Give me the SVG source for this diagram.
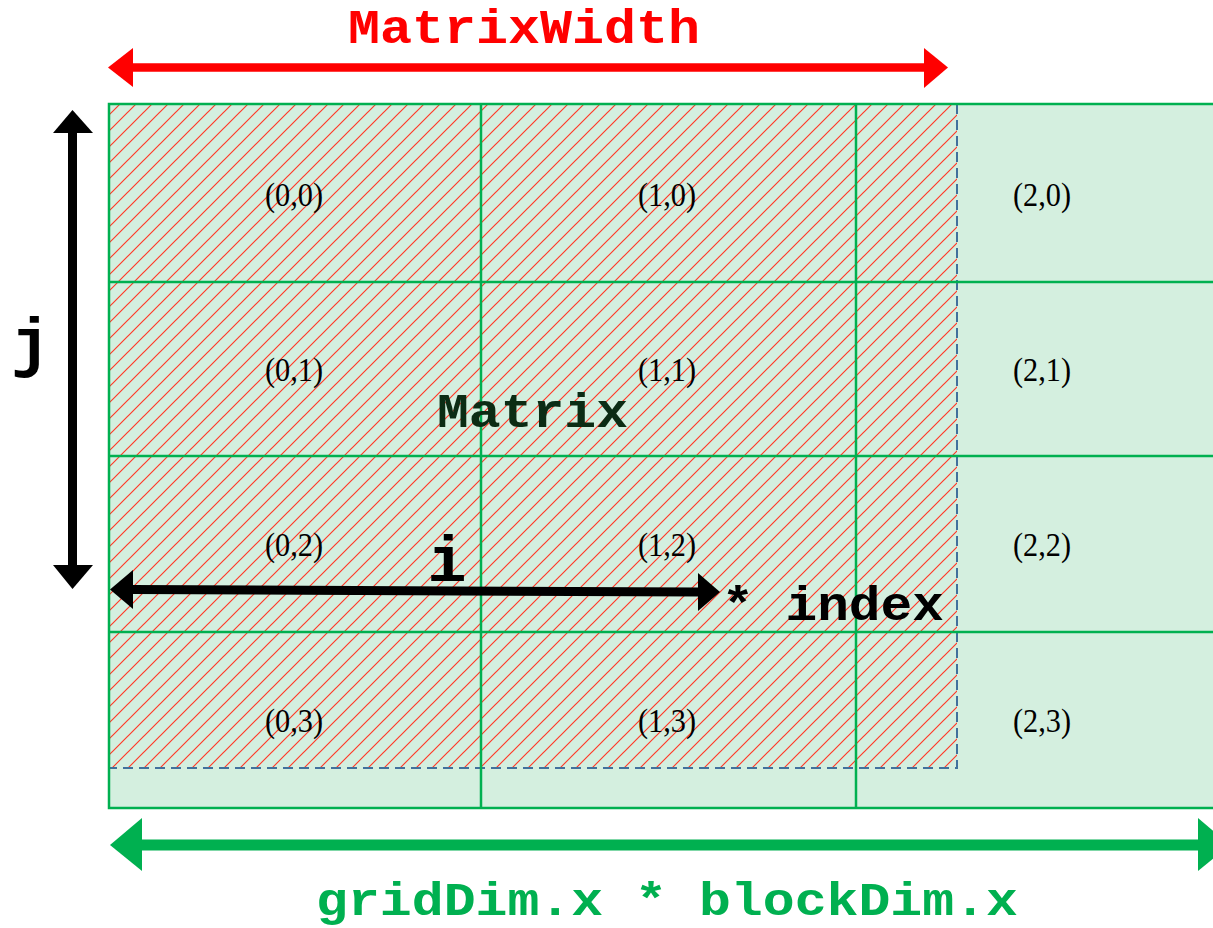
<svg xmlns="http://www.w3.org/2000/svg" width="1213" height="928" viewBox="0 0 1213 928">
<style>
.cell{font-family:"Liberation Serif","Times New Roman",serif;font-size:33px;fill:#000;text-anchor:middle}
.mono{font-family:"Liberation Mono","Courier New",monospace;font-weight:bold}
.grid{stroke:#00B050;stroke-width:2.5;fill:none}
</style>
<defs>
<pattern id="hatch" patternUnits="userSpaceOnUse" width="16" height="16">
<path d="M-4,4 L4,-4 M0,16 L16,0 M12,20 L20,12" stroke="#FF3A28" stroke-width="1.2"/>
</pattern>
</defs>
<rect width="1213" height="928" fill="#fff"/>
<g id="grid-bg">
<rect x="109" y="104" width="1120" height="704" fill="#D4EFDF"/>
</g>
<g id="matrix-region">
<rect x="109" y="104" width="848" height="664" fill="url(#hatch)" stroke="#41719C" stroke-width="2" stroke-dasharray="10,6"/>
</g>
<g id="grid-lines">
<rect x="109" y="104" width="1120" height="704" class="grid"/>
<line x1="481" y1="104" x2="481" y2="808" class="grid"/>
<line x1="856" y1="104" x2="856" y2="808" class="grid"/>
<line x1="109" y1="282" x2="1229" y2="282" class="grid"/>
<line x1="109" y1="456" x2="1229" y2="456" class="grid"/>
<line x1="109" y1="632" x2="1229" y2="632" class="grid"/>
</g>
<g id="cells">
<g id="c00"><text class="cell" x="294" y="206" textLength="58" lengthAdjust="spacingAndGlyphs">(0,0)</text></g>
<g id="c10"><text class="cell" x="667" y="206" textLength="58" lengthAdjust="spacingAndGlyphs">(1,0)</text></g>
<g id="c20"><text class="cell" x="1042" y="206" textLength="58" lengthAdjust="spacingAndGlyphs">(2,0)</text></g>
<g id="c01"><text class="cell" x="294" y="381" textLength="58" lengthAdjust="spacingAndGlyphs">(0,1)</text></g>
<g id="c11"><text class="cell" x="667" y="381" textLength="58" lengthAdjust="spacingAndGlyphs">(1,1)</text></g>
<g id="c21"><text class="cell" x="1042" y="381" textLength="58" lengthAdjust="spacingAndGlyphs">(2,1)</text></g>
<g id="c02"><text class="cell" x="294" y="556" textLength="58" lengthAdjust="spacingAndGlyphs">(0,2)</text></g>
<g id="c12"><text class="cell" x="667" y="556" textLength="58" lengthAdjust="spacingAndGlyphs">(1,2)</text></g>
<g id="c22"><text class="cell" x="1042" y="556" textLength="58" lengthAdjust="spacingAndGlyphs">(2,2)</text></g>
<g id="c03"><text class="cell" x="294" y="732" textLength="58" lengthAdjust="spacingAndGlyphs">(0,3)</text></g>
<g id="c13"><text class="cell" x="667" y="732" textLength="58" lengthAdjust="spacingAndGlyphs">(1,3)</text></g>
<g id="c23"><text class="cell" x="1042" y="732" textLength="58" lengthAdjust="spacingAndGlyphs">(2,3)</text></g>
</g>
<g id="connectors">
<path d="M133,67.5 H924" stroke="#FF0000" stroke-width="8.5"/>
<polygon points="108,67.5 133,48 133,87" fill="#FF0000"/>
<polygon points="948,67.5 924,48 924,88" fill="#FF0000"/>
<path d="M72.5,132 V566" stroke="#000" stroke-width="9"/>
<polygon points="72.5,110 53,133 93,133" fill="#000"/>
<polygon points="72.5,589 53,565 93,565" fill="#000"/>
<path d="M132,589.5 L699,592" stroke="#000" stroke-width="9"/>
<polygon points="110,589.5 133,570 133,609" fill="#000"/>
<polygon points="720,592 698,573 698,611" fill="#000"/>
<path d="M141,845 H1199" stroke="#00B050" stroke-width="11"/>
<polygon points="110,845 142,818 142,871" fill="#00B050"/>
<polygon points="1230,845 1198,818 1198,871" fill="#00B050"/>
</g>
<g id="labels">
<text class="mono" x="348" y="43" font-size="48" fill="#FF0000" textLength="352" lengthAdjust="spacingAndGlyphs">MatrixWidth</text>
<text class="mono" x="437" y="427" font-size="48" fill="#0B2C14" textLength="191" lengthAdjust="spacingAndGlyphs">Matrix</text>
<text class="mono" x="722" y="620" font-size="48" fill="#000" textLength="222" lengthAdjust="spacingAndGlyphs">* index</text>
<text class="mono" x="447" y="581" font-size="65" fill="#000" text-anchor="middle">i</text>
<text class="mono" x="11" y="364" font-size="66" fill="#000">j</text>
<text class="mono" x="316" y="915" font-size="47" fill="#00B050" textLength="702" lengthAdjust="spacingAndGlyphs">gridDim.x * blockDim.x</text>
</g>
</svg>
